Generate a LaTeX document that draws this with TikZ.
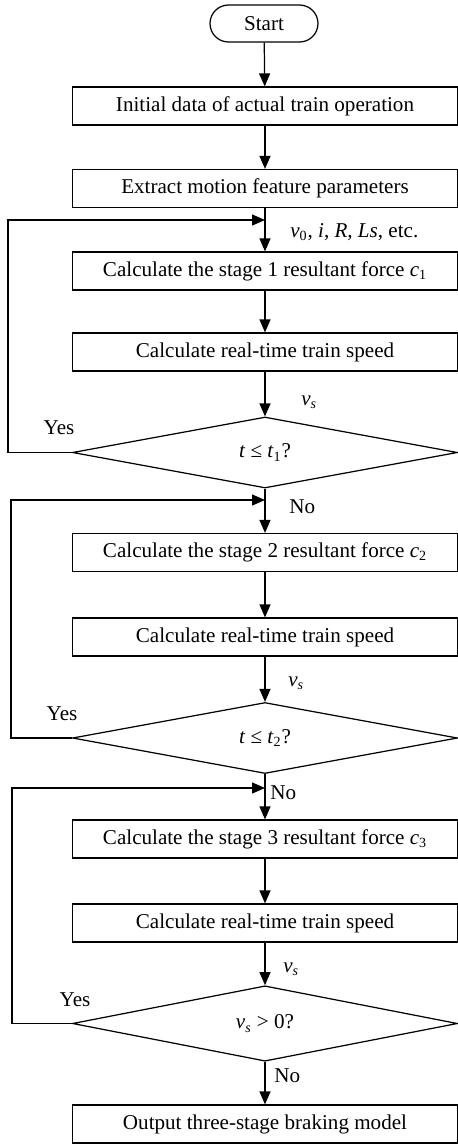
\documentclass[tikz,border=0pt]{standalone}
\usepackage{fontspec}
\setmainfont{Liberation Serif}
\usetikzlibrary{arrows.meta,shapes.geometric}
\newcommand{\vr}[1]{\textit{#1}}
\tikzset{
  box/.style={draw, line width=0.7pt, minimum width=7.7cm, minimum height=0.76cm, inner sep=0pt, font=\fontsize{12}{14}\selectfont},
  termbox/.style={draw, line width=0.7pt, rounded corners=0.37cm, minimum width=2.16cm, minimum height=0.74cm, inner sep=0pt, font=\fontsize{12}{14}\selectfont},
  test/.style={draw, line width=0.7pt, diamond, minimum width=7.7cm, minimum height=1.42cm, inner sep=0pt, font=\fontsize{12}{14}\selectfont},
  arr/.style={line width=0.7pt, -{Triangle[length=0.26cm,width=0.22cm]}},
  lbl/.style={font=\fontsize{12}{14}\selectfont, inner sep=0pt}
}

\begin{document}
\begin{tikzpicture}
			%%%%% START %%%%%
			\useasboundingbox (0,0) rectangle (9.16,-22.88);
			
			\node[termbox] (start) at (5.28,-0.47) {Start};
			\node[box] (init) at (5.3,-2.12) {Initial data of actual train operation};
			\node[box] (extract) at (5.3,-3.77) {Extract motion feature parameters};
			
			% stage 1
			\node[box] (force1) at (5.3,-5.42) {Calculate the stage 1 resultant force \vr{c}\textsubscript{1}};
			\node[box] (speed1) at (5.3,-7.04) {Calculate real-time train speed};
			\node[test] (check1) at (5.3,-9.05) {\vr{t} ≤ \vr{t}\textsubscript{1}?};
			
			% stage 2
			\node[box] (force2) at (5.3,-11.05) {Calculate the stage 2 resultant force \vr{c}\textsubscript{2}};
			\node[box] (speed2) at (5.3,-12.74) {Calculate real-time train speed};
			\node[test] (check2) at (5.3,-14.76) {\vr{t} ≤ \vr{t}\textsubscript{2}?};
			
			% stage 3
			\node[box] (force3) at (5.3,-16.78) {Calculate the stage 3 resultant force \vr{c}\textsubscript{3}};
			\node[box] (speed3) at (5.3,-18.46) {Calculate real-time train speed};
			\node[test] (check3) at (5.3,-20.47) {\vr{v}\textsubscript{\vr{s}} > 0?};
			
			\node[box] (output) at (5.3,-22.48) {Output three-stage braking model};
			
			\coordinate (join1) at (5.3,-4.40);
			\coordinate (join2) at (5.3,-10.00);
			\coordinate (join3) at (5.3,-15.76);
			
			\draw[arr] (start) -- (init);
			\draw[arr] (init) -- (extract);
			\draw[arr] (extract) -- (force1);
			\draw[arr] (force1) -- (speed1);
			\draw[arr] (speed1) -- (check1);
			\draw[arr] (check1) -- (force2);
			\draw[arr] (force2) -- (speed2);
			\draw[arr] (speed2) -- (check2);
			\draw[arr] (check2) -- (force3);
			\draw[arr] (force3) -- (speed3);
			\draw[arr] (speed3) -- (check3);
			\draw[arr] (check3) -- (output);
			
			% loops back
			\draw[arr] (check1.west) -- ++(-1.28,0) |- (join1);
			\draw[arr] (check2.west) -- ++(-1.22,0) |- (join2);
			\draw[arr] (check3.west) -- ++(-1.20,0) |- (join3);
			
			\node[lbl, anchor=west] (params) at (5.8,-4.64) {\vr{v}\textsubscript{0}, \vr{i}, \vr{R}, \vr{Ls}, etc.};
			\node[lbl, anchor=west] (vs1) at (6.02,-8.04) {\vr{v}\textsubscript{\vr{s}}};
			\node[lbl, anchor=west] (vs2) at (5.76,-13.66) {\vr{v}\textsubscript{\vr{s}}};
			\node[lbl, anchor=west] (vs3) at (5.66,-19.38) {\vr{v}\textsubscript{\vr{s}}};
			
			\node[lbl] (yes1) at (1.18,-8.56) {Yes};
			\node[lbl] (yes2) at (1.24,-14.28) {Yes};
			\node[lbl] (yes3) at (1.50,-20.00) {Yes};
			
			\node[lbl, anchor=west] (no1) at (5.78,-10.14) {No};
			\node[lbl, anchor=west] (no2) at (5.40,-15.86) {No};
			\node[lbl, anchor=west] (no3) at (5.48,-21.52) {No};
			
			%%%%% END %%%%%
\end{tikzpicture}
\end{document}
